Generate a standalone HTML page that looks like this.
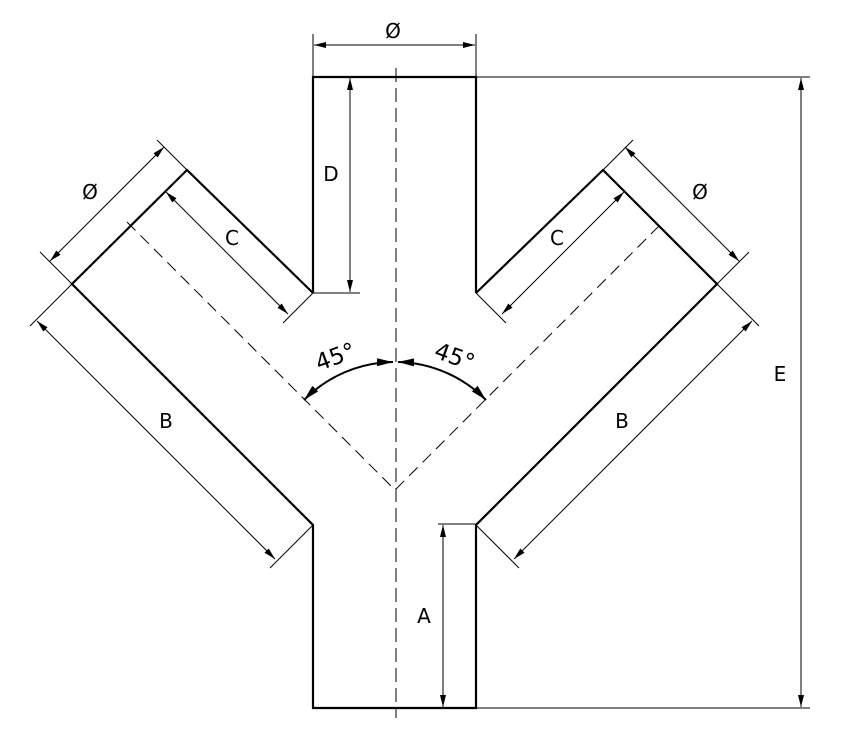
<!DOCTYPE html>
<html><head><meta charset="utf-8"><style>html,body{margin:0;padding:0;background:#fff}svg{display:block}</style></head><body>
<svg width="848" height="747" viewBox="0 0 848 747" xmlns="http://www.w3.org/2000/svg" font-family="'DejaVu Sans','Liberation Sans',sans-serif" font-size="20">
<defs>
<marker id="a" viewBox="0 0 12 6" refX="12" refY="3" markerWidth="12" markerHeight="6" markerUnits="userSpaceOnUse" orient="auto-start-reverse"><path d="M0,0L12,3L0,6z" fill="#000"/></marker>
<marker id="b" viewBox="0 0 16 8" refX="16" refY="4" markerWidth="16" markerHeight="8" markerUnits="userSpaceOnUse" orient="auto-start-reverse"><path d="M0,0L16,4L0,8z" fill="#000"/></marker>
</defs>
<g fill="none" stroke="#000" stroke-width="2.2" stroke-linejoin="miter">
<polyline points="313,293 313,77 476,77 476,293"/>
<polyline points="313,293 187,170 72,284 313,525 313,708 476,708 476,525 717,284 603,170 476,293"/>
</g>
<g fill="none" stroke="#000" stroke-width="1">
<line x1="476" y1="77" x2="810" y2="77"/>
<line x1="476" y1="708" x2="810" y2="708"/>
<line x1="313" y1="34" x2="313" y2="77"/>
<line x1="476" y1="34" x2="476" y2="77"/>
<line x1="314" y1="45" x2="475" y2="45" marker-start="url(#a)" marker-end="url(#a)"/>
<line x1="313" y1="293" x2="360" y2="293"/>
<line x1="350" y1="78" x2="350" y2="292" marker-start="url(#a)" marker-end="url(#a)"/>
<line x1="438" y1="524" x2="476" y2="524"/>
<line x1="443" y1="525" x2="443" y2="707" marker-start="url(#a)" marker-end="url(#a)"/>
<line x1="801" y1="78" x2="801" y2="707" marker-start="url(#a)" marker-end="url(#a)"/>
<line x1="72" y1="284" x2="40" y2="252"/>
<line x1="187" y1="170" x2="157" y2="140"/>
<line x1="50" y1="261" x2="164" y2="147" marker-start="url(#a)" marker-end="url(#a)"/>
<line x1="313" y1="293" x2="283" y2="323"/>
<line x1="187" y1="170" x2="159" y2="198"/>
<line x1="166" y1="192" x2="288" y2="314" marker-start="url(#a)" marker-end="url(#a)"/>
<line x1="72" y1="284" x2="30" y2="326"/>
<line x1="313" y1="525" x2="270" y2="568"/>
<line x1="37" y1="321" x2="275" y2="559" marker-start="url(#a)" marker-end="url(#a)"/>
<line x1="717" y1="284" x2="749" y2="252"/>
<line x1="603" y1="170" x2="633" y2="140"/>
<line x1="739" y1="261" x2="625" y2="147" marker-start="url(#a)" marker-end="url(#a)"/>
<line x1="476" y1="293" x2="506" y2="323"/>
<line x1="603" y1="170" x2="631" y2="198"/>
<line x1="624" y1="192" x2="502" y2="314" marker-start="url(#a)" marker-end="url(#a)"/>
<line x1="717" y1="284" x2="759" y2="326"/>
<line x1="476" y1="525" x2="519" y2="568"/>
<line x1="752" y1="321" x2="514" y2="559" marker-start="url(#a)" marker-end="url(#a)"/>
<line x1="396" y1="68" x2="396" y2="718" stroke-dasharray="14,6"/>
<polyline points="127,222 395,490 663,222" stroke-dasharray="12,7"/>
<path d="M304,400 A128,128 0 0 1 393,362" stroke-width="2" marker-start="url(#b)" marker-end="url(#b)"/>
<path d="M486,400 A128,128 0 0 0 398,362" stroke-width="2" marker-start="url(#b)" marker-end="url(#b)"/>
</g>
<g fill="#000" text-anchor="middle">
<text x="393" y="38">Ø</text>
<text x="331" y="181">D</text>
<text x="232" y="245">C</text>
<text x="557" y="245">C</text>
<text x="90" y="199">Ø</text>
<text x="700" y="199">Ø</text>
<text x="166" y="428">B</text>
<text x="622" y="428">B</text>
<text x="424" y="623">A</text>
<text x="780" y="381">E</text>
<text font-size="23" transform="translate(338,364) rotate(-20)">45°</text>
<text font-size="23" transform="translate(452,364) rotate(20)">45°</text>
</g>
</svg>
</body></html>
